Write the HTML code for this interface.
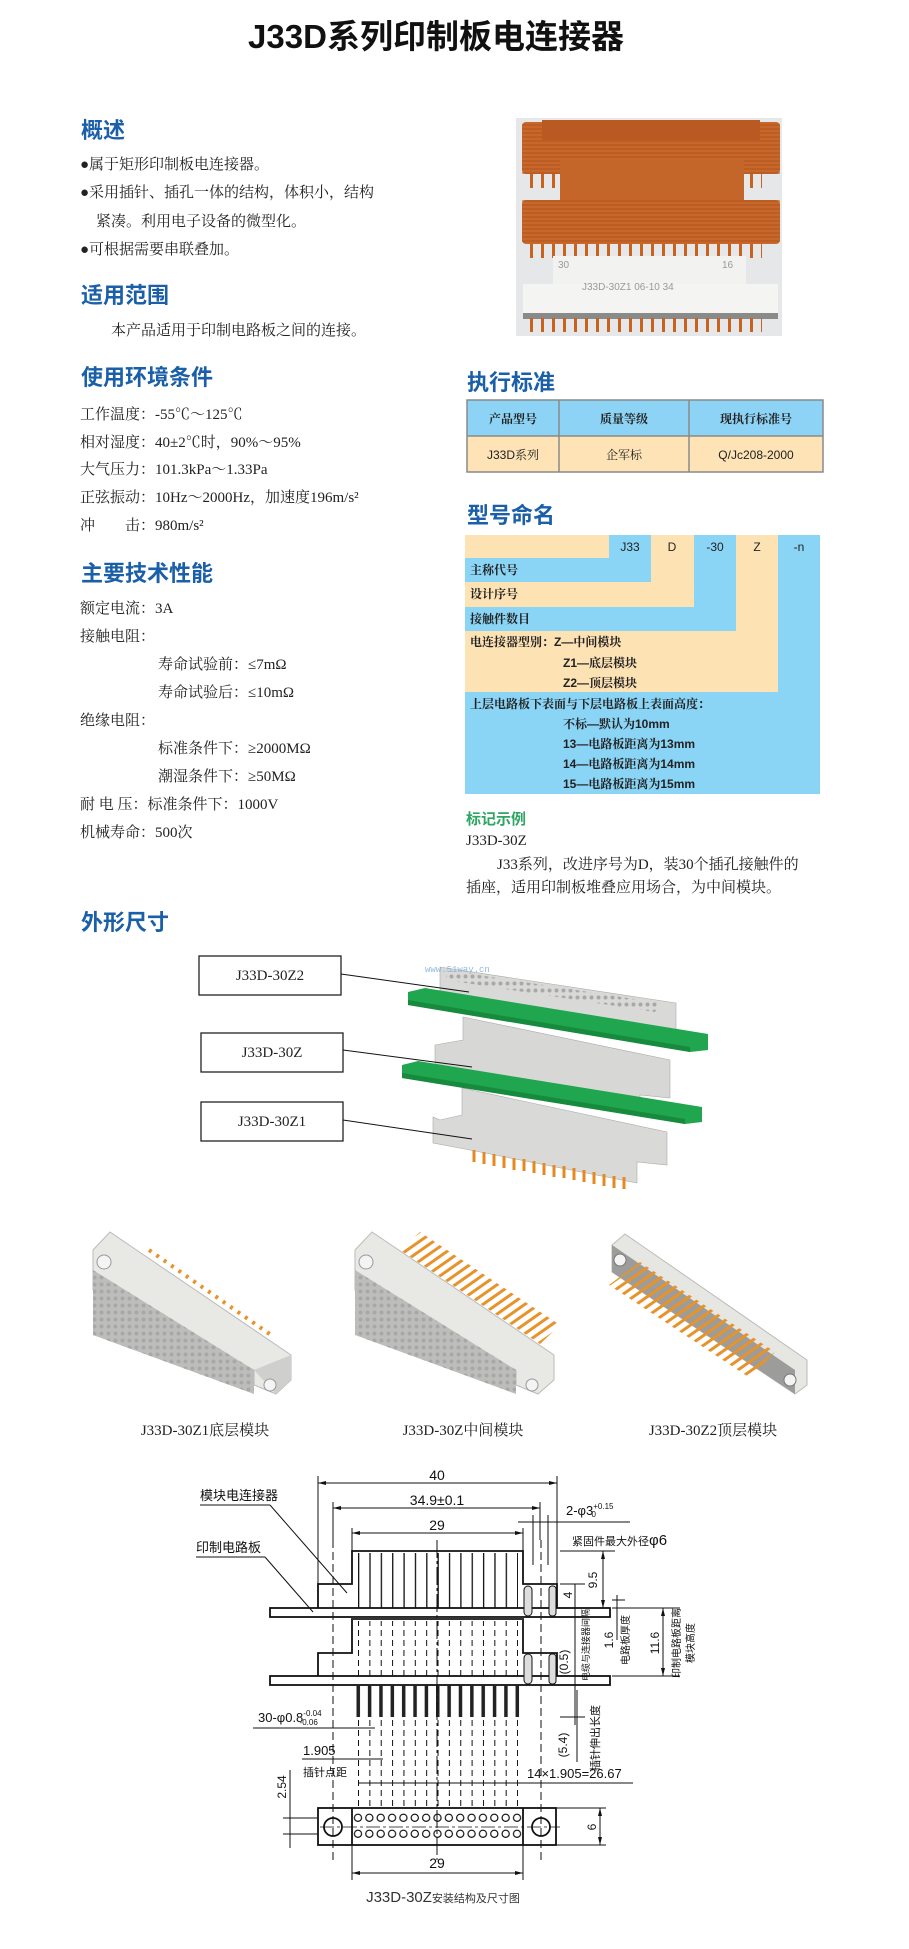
<!DOCTYPE html>
<html><head><meta charset="utf-8"><style>
html,body{margin:0;padding:0;background:#fff;}
svg{display:block;}
.h{font-family:"Liberation Sans","Noto Sans CJK SC",sans-serif;font-weight:bold;fill:#1a5fa8;font-size:22px;}
.b{font-family:"Liberation Serif","Noto Serif CJK SC",serif;font-size:15px;fill:#222;}
.t{font-family:"Liberation Sans","Noto Serif CJK SC",sans-serif;font-size:12px;fill:#222;}
.d{font-family:"Liberation Sans","Noto Sans CJK SC",sans-serif;font-size:13px;fill:#111;}
.dc{font-family:"Liberation Sans","Noto Sans CJK SC",sans-serif;font-size:11px;fill:#111;}
</style></head><body>
<svg width="909" height="1949" viewBox="0 0 909 1949" xmlns="http://www.w3.org/2000/svg">
<defs>
<pattern id="pins" x="358" y="0" width="11.36" height="4" patternUnits="userSpaceOnUse"><rect x="0" y="0" width="1.3" height="4" fill="#111"/></pattern>
<pattern id="pinsd" x="358" y="0" width="11.36" height="10" patternUnits="userSpaceOnUse"><rect x="0" y="0" width="1" height="6" fill="#111"/></pattern>
<pattern id="pinsb" x="356.5" y="0" width="11.36" height="4" patternUnits="userSpaceOnUse"><rect x="0" y="0" width="3.5" height="4" fill="#222"/></pattern>
<pattern id="holes" x="352.3" y="1812" width="11.36" height="16" patternUnits="userSpaceOnUse"><circle cx="5.68" cy="5.8" r="3.6" fill="none" stroke="#111" stroke-width="1.2"/></pattern>
<pattern id="stripe" width="8" height="8" patternUnits="userSpaceOnUse" patternTransform="rotate(-35)"><rect width="8" height="3" fill="#e8922a"/></pattern>
<pattern id="vstripe" x="527" width="11" height="10" patternUnits="userSpaceOnUse"><rect x="3" width="3" height="10" fill="#c8621e"/></pattern>
<pattern id="dots" width="7" height="7" patternUnits="userSpaceOnUse"><circle cx="3.5" cy="3.5" r="2" fill="#a8a8a8"/></pattern>
<pattern id="hstripe" width="10" height="4" patternUnits="userSpaceOnUse"><rect width="10" height="2" fill="#b0561c" opacity="0.5"/></pattern>
</defs>

<!-- Title -->
<text x="436" y="48" text-anchor="middle" font-family="'Liberation Sans','Noto Sans CJK SC',sans-serif" font-weight="bold" font-size="33" fill="#111">J33D系列印制板电连接器</text>

<!-- Left column -->
<text class="h" x="81" y="138">概述</text>
<text class="b" x="80" y="169">●属于矩形印制板电连接器。</text>
<text class="b" x="80" y="197">●采用插针、插孔一体的结构，体积小，结构</text>
<text class="b" x="96" y="226">紧凑。利用电子设备的微型化。</text>
<text class="b" x="80" y="254">●可根据需要串联叠加。</text>

<text class="h" x="81" y="303">适用范围</text>
<text class="b" x="111" y="335">本产品适用于印制电路板之间的连接。</text>

<text class="h" x="81" y="385">使用环境条件</text>
<text class="b" x="80" y="419">工作温度：-55℃～125℃</text>
<text class="b" x="80" y="447">相对湿度：40±2℃时，90%～95%</text>
<text class="b" x="80" y="474">大气压力：101.3kPa～1.33Pa</text>
<text class="b" x="80" y="502">正弦振动：10Hz～2000Hz，加速度196m/s²</text>
<text class="b" x="80" y="530">冲　　击：980m/s²</text>

<text class="h" x="81" y="581">主要技术性能</text>
<text class="b" x="80" y="613">额定电流：3A</text>
<text class="b" x="80" y="641">接触电阻：</text>
<text class="b" x="158" y="669">寿命试验前：≤7mΩ</text>
<text class="b" x="158" y="697">寿命试验后：≤10mΩ</text>
<text class="b" x="80" y="725">绝缘电阻：</text>
<text class="b" x="158" y="753">标准条件下：≥2000MΩ</text>
<text class="b" x="158" y="781">潮湿条件下：≥50MΩ</text>
<text class="b" x="80" y="809">耐 电 压：标准条件下：1000V</text>
<text class="b" x="80" y="837">机械寿命：500次</text>

<text class="h" x="81" y="930">外形尺寸</text>

<!-- Photo -->
<rect x="516" y="118" width="266" height="218" fill="#e6e7e9"/>
<rect x="522" y="122" width="258" height="52" rx="4" fill="#c8672c"/>
<rect x="522" y="122" width="258" height="52" fill="url(#hstripe)"/>
<rect x="542" y="120" width="218" height="20" fill="#b85a22"/>
<rect x="527" y="174" width="235" height="14" fill="url(#vstripe)"/>
<rect x="560" y="160" width="184" height="44" fill="#c4652a"/>
<rect x="522" y="200" width="258" height="44" rx="4" fill="#c8672c"/>
<rect x="522" y="200" width="258" height="44" fill="url(#hstripe)"/>
<rect x="527" y="244" width="235" height="14" fill="url(#vstripe)"/>
<rect x="553" y="256" width="193" height="30" fill="#f2f2f0"/>
<rect x="523" y="284" width="255" height="32" fill="#f4f4f2"/>
<rect x="523" y="313" width="255" height="6" fill="#8a8a88"/>
<rect x="527" y="318" width="235" height="14" fill="url(#vstripe)"/>
<text x="558" y="268" font-family="'Liberation Sans',sans-serif" font-size="10" fill="#999">30</text>
<text x="722" y="268" font-family="'Liberation Sans',sans-serif" font-size="10" fill="#999">16</text>
<text x="582" y="290" font-family="'Liberation Sans',sans-serif" font-size="10" fill="#999">J33D-30Z1   06-10   34</text>

<!-- 执行标准 -->
<text class="h" x="467" y="390">执行标准</text>
<rect x="467" y="400" width="356" height="36" fill="#8dd3f5"/>
<rect x="467" y="436" width="356" height="36" fill="#fde3b6"/>
<g stroke="#8a8a8a" stroke-width="1.5" fill="none">
<rect x="467" y="400" width="356" height="72"/>
<line x1="467" y1="436" x2="823" y2="436"/>
<line x1="559" y1="400" x2="559" y2="472"/>
<line x1="689" y1="400" x2="689" y2="472"/>
</g>
<g class="t" text-anchor="middle" font-weight="bold">
<text x="513" y="423">产品型号</text><text x="624" y="423">质量等级</text><text x="756" y="423">现执行标准号</text>
<text x="513" y="459" font-weight="normal">J33D系列</text><text x="624" y="459" font-weight="normal">企军标</text><text x="756" y="459" font-weight="normal">Q/Jc208-2000</text>
</g>

<!-- 型号命名 -->
<text class="h" x="467" y="523">型号命名</text>
<rect x="465" y="535" width="144" height="23" fill="#fde2b4"/>
<rect x="609" y="535" width="42" height="47" fill="#8ad4f5"/>
<rect x="465" y="558" width="186" height="24" fill="#8ad4f5"/>
<rect x="651" y="535" width="43" height="72" fill="#fde2b4"/>
<rect x="465" y="582" width="229" height="25" fill="#fde2b4"/>
<rect x="694" y="535" width="42" height="96" fill="#8ad4f5"/>
<rect x="465" y="607" width="271" height="24" fill="#8ad4f5"/>
<rect x="736" y="535" width="42" height="157" fill="#fde2b4"/>
<rect x="465" y="631" width="313" height="61" fill="#fde2b4"/>
<rect x="778" y="535" width="42" height="259" fill="#8ad4f5"/>
<rect x="465" y="692" width="355" height="102" fill="#8ad4f5"/>
<g class="t" text-anchor="middle">
<text x="630" y="551">J33</text><text x="672" y="551">D</text><text x="715" y="551">-30</text><text x="757" y="551">Z</text><text x="799" y="551">-n</text>
</g>
<g class="t" font-weight="bold">
<text x="470" y="574">主称代号</text>
<text x="470" y="598">设计序号</text>
<text x="470" y="623">接触件数目</text>
<text x="470" y="646">电连接器型别：Z—中间模块</text>
<text x="563" y="667">Z1—底层模块</text>
<text x="563" y="687">Z2—顶层模块</text>
<text x="470" y="708">上层电路板下表面与下层电路板上表面高度：</text>
<text x="563" y="728">不标—默认为10mm</text>
<text x="563" y="748">13—电路板距离为13mm</text>
<text x="563" y="768">14—电路板距离为14mm</text>
<text x="563" y="788">15—电路板距离为15mm</text>
</g>
<text x="466" y="824" font-family="'Liberation Sans','Noto Sans CJK SC',sans-serif" font-weight="bold" font-size="15" fill="#2ea563">标记示例</text>
<text class="b" x="466" y="845">J33D-30Z</text>
<text class="b" x="497" y="869">J33系列，改进序号为D，装30个插孔接触件的</text>
<text class="b" x="466" y="892">插座，适用印制板堆叠应用场合，为中间模块。</text>

<!-- Stack labels -->
<g fill="#fff" stroke="#222" stroke-width="1.3">
<rect x="199" y="956" width="142" height="39"/>
<rect x="201" y="1033" width="142" height="39"/>
<rect x="201" y="1102" width="142" height="39"/>
</g>
<g class="b" text-anchor="middle" font-size="14">
<text x="270" y="980">J33D-30Z2</text><text x="272" y="1057">J33D-30Z</text><text x="272" y="1126">J33D-30Z1</text>
</g>

<!-- Stack image -->
<g>
<polygon points="440,1120 462,1115 462,1088 667,1132 667,1165 637,1162 637,1183 470,1150 433,1143 433,1117" fill="#d9dad7" stroke="#aaa" stroke-width="0.6"/>
<polygon points="435,1045 463,1040 463,1017 670,1060 670,1098 640,1095 640,1115 463,1078 435,1072" fill="#d7d8d5" stroke="#aaa" stroke-width="0.6"/>
<polygon points="440,967 676,1003 676,1040 440,1000" fill="#d9dad7" stroke="#aaa" stroke-width="0.6"/>
<polygon points="446,970 660,1003 655,1012 446,980" fill="url(#dots)"/>
<polygon points="408,992 425,988 708,1034 708,1050 690,1052 408,1005" fill="#1fa64e"/>
<polygon points="408,1000 690,1047 690,1052 408,1005" fill="#178a3e"/>
<polygon points="402,1065 418,1061 702,1107 702,1122 685,1124 402,1078" fill="#1fa64e"/>
<polygon points="402,1073 685,1119 685,1124 402,1078" fill="#178a3e"/>
<polygon points="470,1150 627,1177 627,1185 470,1158" fill="none"/>
<g stroke="#e48a22" stroke-width="3">
<line x1="474" y1="1150" x2="474" y2="1162"/><line x1="484" y1="1152" x2="484" y2="1164"/><line x1="494" y1="1154" x2="494" y2="1166"/><line x1="504" y1="1156" x2="504" y2="1168"/><line x1="514" y1="1158" x2="514" y2="1170"/><line x1="524" y1="1159" x2="524" y2="1171"/><line x1="534" y1="1161" x2="534" y2="1173"/><line x1="544" y1="1163" x2="544" y2="1175"/><line x1="554" y1="1165" x2="554" y2="1177"/><line x1="564" y1="1166" x2="564" y2="1178"/><line x1="574" y1="1168" x2="574" y2="1180"/><line x1="584" y1="1170" x2="584" y2="1182"/><line x1="594" y1="1172" x2="594" y2="1184"/><line x1="604" y1="1174" x2="604" y2="1186"/><line x1="614" y1="1176" x2="614" y2="1188"/><line x1="624" y1="1177" x2="624" y2="1189"/>
</g>
<text x="425" y="972" font-family="'Liberation Mono',monospace" font-size="9" fill="#7aa8d8" opacity="0.8">www.51way.cn</text>
</g>
<g stroke="#111" stroke-width="1">
<line x1="341" y1="974" x2="469" y2="992"/>
<line x1="343" y1="1050" x2="472" y2="1067"/>
<line x1="343" y1="1120" x2="472" y2="1139"/>
</g>

<!-- Bottom images -->
<g>
<polygon points="93,1250 110,1232 291,1355 291,1380 276,1394 254,1385 254,1370 93,1290" fill="#e8e8e4" stroke="#bbb"/>
<polygon points="93,1270 93,1335 254,1394 254,1370" fill="#bdbdbb"/>
<polygon points="93,1270 93,1335 254,1394 254,1370" fill="url(#dots)"/>
<polygon points="254,1370 276,1394 291,1380 291,1355" fill="#cfcfcd"/>
<circle cx="104" cy="1262" r="7" fill="#f4f4f4" stroke="#999"/>
<circle cx="270" cy="1385" r="6" fill="#f4f4f4" stroke="#999"/>
<line x1="149" y1="1250" x2="271" y2="1335" stroke="#e8922a" stroke-width="4" stroke-dasharray="3,6"/>

<polygon points="355,1250 372,1232 554,1355 554,1380 538,1394 516,1385 516,1370 355,1290" fill="#e8e8e4" stroke="#bbb"/>
<polygon points="355,1270 355,1335 516,1394 516,1370" fill="#bdbdbb"/>
<polygon points="355,1270 355,1335 516,1394 516,1370" fill="url(#dots)"/>
<circle cx="366" cy="1262" r="7" fill="#f4f4f4" stroke="#999"/>
<circle cx="532" cy="1385" r="6" fill="#f4f4f4" stroke="#999"/>
<polygon points="400,1250 420,1232 560,1325 540,1344" fill="url(#stripe)"/>

<polygon points="612,1245 625,1234 807,1360 807,1385 795,1394 612,1272" fill="#e6e6e2" stroke="#bbb"/>
<polygon points="612,1245 612,1272 795,1394 795,1370" fill="#9c9c9a"/>
<circle cx="620" cy="1260" r="6" fill="#f4f4f4" stroke="#777"/>
<circle cx="790" cy="1380" r="6" fill="#f4f4f4" stroke="#777"/>
<polygon points="609,1285 640,1262 775,1352 750,1378" fill="url(#stripe)"/>
</g>
<g class="b" text-anchor="middle" font-size="14">
<text x="205" y="1435">J33D-30Z1底层模块</text>
<text x="463" y="1435">J33D-30Z中间模块</text>
<text x="713" y="1435">J33D-30Z2顶层模块</text>
</g>

<!-- Technical drawing -->
<g stroke="#111" fill="none" stroke-width="1">
<!-- extension lines -->
<line x1="318" y1="1476" x2="318" y2="1584"/>
<line x1="557" y1="1476" x2="557" y2="1584"/>
<line x1="333" y1="1502" x2="333" y2="1540"/>
<line x1="540" y1="1502" x2="540" y2="1540"/>
<line x1="352" y1="1528" x2="352" y2="1551"/>
<line x1="523" y1="1528" x2="523" y2="1551"/>
<!-- dims -->
<line x1="318" y1="1483" x2="557" y2="1483"/>
<line x1="333" y1="1508" x2="540" y2="1508"/>
<line x1="352" y1="1533" x2="523" y2="1533"/>
<line x1="518" y1="1522" x2="630" y2="1522"/>
<line x1="533" y1="1515" x2="533" y2="1565"/>
<line x1="548" y1="1515" x2="548" y2="1565"/>
<!-- leaders -->
<line x1="200" y1="1505" x2="270" y2="1505"/>
<line x1="270" y1="1505" x2="347" y2="1593"/>
<line x1="196" y1="1557" x2="265" y2="1557"/>
<line x1="265" y1="1557" x2="313" y2="1612"/>
</g>
<g fill="#111">
<polygon points="318,1483 326,1481 326,1485"/><polygon points="557,1483 549,1481 549,1485"/>
<polygon points="333,1508 341,1506 341,1510"/><polygon points="540,1508 532,1506 532,1510"/>
<polygon points="352,1533 360,1531 360,1535"/><polygon points="523,1533 515,1531 515,1535"/>
</g>
<g stroke="#111" fill="none" stroke-width="1.8">
<!-- upper connector outline -->
<polyline points="318,1608 318,1584 352,1584 352,1551 523,1551 523,1584 557,1584 557,1608"/>
<rect x="270" y="1608" width="340" height="9"/>
<polyline points="318,1676 318,1653 352,1653 352,1619 523,1619 523,1653 557,1653 557,1676"/>
<rect x="270" y="1676" width="340" height="9"/>
</g>
<rect x="358" y="1553" width="160" height="55" fill="url(#pins)"/>
<rect x="358" y="1621" width="160" height="55" fill="url(#pinsd)"/>
<rect x="352" y="1617" width="171" height="3" fill="#333"/>
<rect x="356" y="1685" width="164" height="32" fill="url(#pinsb)"/>
<g stroke="#111" stroke-width="1" fill="none">
<line x1="437" y1="1540" x2="437" y2="1860" stroke-dasharray="18,3,3,3"/>
<line x1="333" y1="1540" x2="333" y2="1860" stroke-dasharray="8,4"/>
<line x1="541" y1="1540" x2="541" y2="1860" stroke-dasharray="8,4"/>
<!-- fastener hatch -->
<rect x="524" y="1586" width="8" height="30" rx="4" fill="#ddd"/>
<rect x="549" y="1586" width="7" height="30" rx="3" fill="#ddd"/>
<rect x="524" y="1654" width="8" height="30" rx="4" fill="#ddd"/>
<rect x="549" y="1654" width="7" height="30" rx="3" fill="#ddd"/>
<!-- right dims -->
<line x1="560" y1="1551" x2="615" y2="1551"/>
<line x1="603" y1="1551" x2="603" y2="1608"/>
<line x1="560" y1="1584" x2="585" y2="1584"/>
<line x1="575" y1="1584" x2="575" y2="1725"/>
<line x1="612" y1="1600" x2="625" y2="1600"/>
<line x1="617" y1="1595" x2="617" y2="1640"/>
<line x1="612" y1="1608" x2="680" y2="1608"/>
<line x1="612" y1="1676" x2="680" y2="1676"/>
<line x1="663" y1="1608" x2="663" y2="1676"/>
<line x1="560" y1="1717" x2="585" y2="1717"/>
<line x1="577" y1="1690" x2="577" y2="1762"/>
<!-- lower dims -->
<line x1="253" y1="1728" x2="375" y2="1728"/>
<line x1="302" y1="1759" x2="383" y2="1759"/>
<line x1="358" y1="1783" x2="633" y2="1783"/>
<line x1="290" y1="1770" x2="290" y2="1848"/>
<line x1="283" y1="1818" x2="318" y2="1818"/>
<line x1="283" y1="1834" x2="318" y2="1834"/>
<line x1="556" y1="1808" x2="606" y2="1808"/>
<line x1="556" y1="1845" x2="606" y2="1845"/>
<line x1="600" y1="1808" x2="600" y2="1845"/>
<line x1="352" y1="1845" x2="352" y2="1880"/>
<line x1="523" y1="1845" x2="523" y2="1880"/>
<line x1="352" y1="1873" x2="523" y2="1873"/>
</g>
<rect x="358" y="1719" width="160" height="88" fill="url(#pinsd)"/>
<g fill="#111">
<polygon points="603,1551 601,1559 605,1559"/><polygon points="603,1608 601,1600 605,1600"/>
<polygon points="663,1608 661,1616 665,1616"/><polygon points="663,1676 661,1668 665,1668"/>
<polygon points="352,1873 360,1871 360,1875"/><polygon points="523,1873 515,1871 515,1875"/>
<polygon points="600,1808 598,1816 602,1816"/><polygon points="600,1845 598,1837 602,1837"/>
</g>
<!-- bottom view -->
<g stroke="#111" stroke-width="1.8" fill="none">
<rect x="318" y="1808" width="238" height="37"/>
<line x1="352" y1="1808" x2="352" y2="1845"/>
<line x1="523" y1="1808" x2="523" y2="1845"/>
<circle cx="333" cy="1827" r="9"/>
<circle cx="541" cy="1827" r="9"/>
</g>
<rect x="352" y="1812" width="171" height="30" fill="url(#holes)"/>
<line x1="320" y1="1827" x2="560" y2="1827" stroke="#111" stroke-width="0.8" stroke-dasharray="14,3,3,3"/>

<!-- drawing texts -->
<g class="d">
<text x="437" y="1480" text-anchor="middle" font-size="14">40</text>
<text x="437" y="1505" text-anchor="middle" font-size="14">34.9±0.1</text>
<text x="437" y="1530" text-anchor="middle" font-size="14">29</text>
<text x="566" y="1515" font-size="13">2-φ3<tspan font-size="8" dy="-6">+0.15</tspan><tspan font-size="8" dx="-22" dy="8">0</tspan></text>
<text x="437" y="1868" text-anchor="middle" font-size="14">29</text>
<text x="258" y="1722" font-size="13">30-φ0.8<tspan font-size="8" dy="-6">-0.04</tspan><tspan font-size="8" dx="-22" dy="9">-0.06</tspan></text>
<text x="303" y="1755" font-size="13">1.905</text>
<text x="527" y="1778" font-size="13">14×1.905=26.67</text>
<text transform="translate(597,1580) rotate(-90)" text-anchor="middle" font-size="12">9.5</text>
<text transform="translate(572,1595) rotate(-90)" text-anchor="middle" font-size="12">4</text>
<text transform="translate(613,1640) rotate(-90)" text-anchor="middle" font-size="12">1.6</text>
<text transform="translate(659,1643) rotate(-90)" text-anchor="middle" font-size="12">11.6</text>
<text transform="translate(568,1662) rotate(-90)" text-anchor="middle" font-size="12">(0.5)</text>
<text transform="translate(567,1745) rotate(-90)" text-anchor="middle" font-size="12">(5.4)</text>
<text transform="translate(286,1787) rotate(-90)" text-anchor="middle" font-size="12">2.54</text>
<text transform="translate(596,1827) rotate(-90)" text-anchor="middle" font-size="12">6</text>
</g>
<g class="dc">
<text x="200" y="1500" font-size="13">模块电连接器</text>
<text x="196" y="1552" font-size="13">印制电路板</text>
<text x="572" y="1545" font-size="11">紧固件最大外径<tspan font-size="15">φ6</tspan></text>
<text x="303" y="1776">插针点距</text>
<text transform="translate(589,1645) rotate(-90)" text-anchor="middle" font-size="9">电缆与连接器间隔</text>
<text transform="translate(629,1640) rotate(-90)" text-anchor="middle" font-size="10">电路板厚度</text>
<text transform="translate(680,1643) rotate(-90)" text-anchor="middle" font-size="10">印制电路板距离</text>
<text transform="translate(694,1643) rotate(-90)" text-anchor="middle" font-size="10">模块高度</text>
<text transform="translate(599,1738) rotate(-90)" text-anchor="middle" font-size="11">插针伸出长度</text>
</g>
<text x="443" y="1902" text-anchor="middle" font-family="'Liberation Sans','Noto Sans CJK SC',sans-serif" font-size="15" fill="#333">J33D-30Z<tspan font-size="11">安装结构及尺寸图</tspan></text>
</svg>
</body></html>
